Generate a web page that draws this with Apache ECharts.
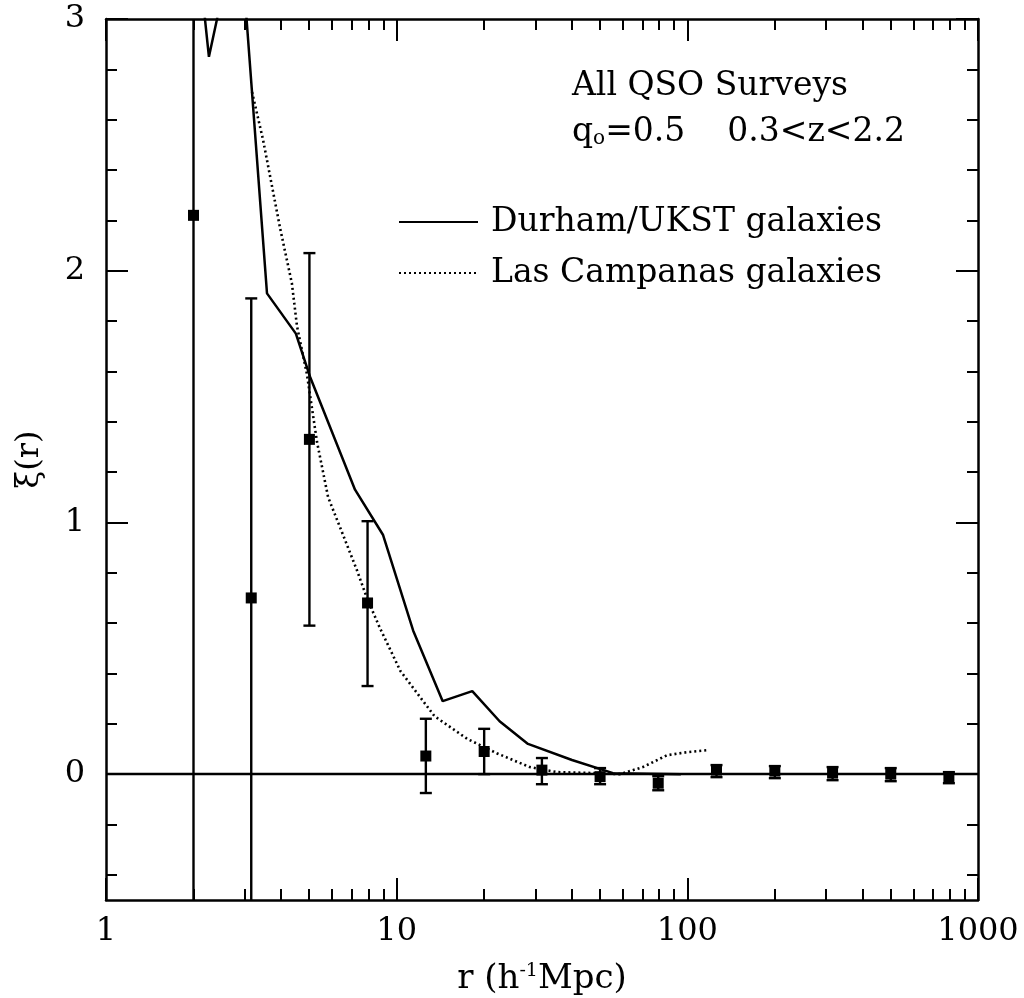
<!DOCTYPE html>
<html>
<head>
<meta charset="utf-8">
<script src="https://cdn.jsdelivr.net/npm/echarts@6/dist/echarts.min.js"></script>
<style>
html,body{margin:0;padding:0;background:#fff;}
#chart{width:1024px;height:998px;}
</style>
</head>
<body>
<div id="chart"></div>
<script>
// ---- data ----
const rBins = [2.0, 3.16, 5.01, 7.94, 12.6, 20.0, 31.6, 50.1, 79.4, 126, 200, 316, 501, 794];
const xiQSO = [2.22, 0.70, 1.33, 0.68, 0.072, 0.09, 0.016, -0.01, -0.036, 0.016, 0.012, 0.004, 0.0, -0.012];
const xiLow = [-1.0, -1.0, 0.59, 0.35, -0.075, 0.0, -0.04, -0.04, -0.064, -0.012, -0.016, -0.024, -0.028, -0.036];
const xiHigh = [4.0, 1.89, 2.07, 1.005, 0.22, 0.18, 0.064, 0.024, -0.008, 0.036, 0.032, 0.028, 0.024, 0.008];

const durhamR  = [2.0, 2.19, 2.26, 2.41, 2.7, 3.0, 3.58, 4.50, 5.03, 7.19, 8.98, 11.4, 14.4, 18.2, 22.6, 28.3, 40.1, 55.5, 95];
const durhamXi = [3.6, 3.0, 2.85, 3.0, 3.5, 3.1, 1.91, 1.75, 1.58, 1.13, 0.95, 0.57, 0.29, 0.33, 0.21, 0.12, 0.056, 0.004, 0.0];

const lcrsR  = [3.18, 3.47, 3.97, 4.36, 4.54, 4.91, 5.32, 5.81, 6.49, 7.30, 7.90, 8.76, 10.3, 13.5, 17.5, 22.1, 28.7, 35.6, 48.9, 58.6, 70.3, 85.1, 99.7, 117];
const lcrsXi = [2.71, 2.52, 2.17, 1.95, 1.78, 1.59, 1.32, 1.10, 0.96, 0.81, 0.70, 0.58, 0.41, 0.23, 0.14, 0.083, 0.028, 0.008, 0.004, 0.0, 0.028, 0.075, 0.087, 0.095];

const xMajorTicks = [1, 10, 100, 1000];
const xMinorTicks = [2,3,4,5,6,7,8,9,20,30,40,50,60,70,80,90,200,300,400,500,600,700,800,900];
const yMajorTicks = [0, 1, 2, 3];
const yMinorTicks = [-0.4,-0.2,0.2,0.4,0.6,0.8,1.2,1.4,1.6,1.8,2.2,2.4,2.6,2.8];

const seriesNames = ['Durham/UKST galaxies', 'Las Campanas galaxies'];

// ---- chart ----
const FONT = 'DejaVu Serif';
const INK = '#000';
const X_MIN = 1, X_MAX = 1000, Y_MIN = -0.5, Y_MAX = 3;

function xAxisDef(position, ticks, len, labels) {
  return {
    type: 'log', logBase: 10, min: X_MIN, max: X_MAX, position: position,
    axisLine: { show: labels !== null, onZero: false, lineStyle: { color: INK, width: 2.5 } },
    axisTick: { show: true, inside: true, length: len, customValues: ticks, lineStyle: { color: INK, width: 2 } },
    axisLabel: labels ? { show: true, customValues: labels, color: INK, fontFamily: FONT, fontSize: 32, margin: 16,
      formatter: v => String(Math.round(v)) } : { show: false },
    splitLine: { show: false }, minorTick: { show: false }
  };
}
function yAxisDef(position, ticks, len, labels) {
  return {
    type: 'value', min: Y_MIN, max: Y_MAX, position: position,
    axisLine: { show: labels !== null, onZero: false, lineStyle: { color: INK, width: 2.5 } },
    axisTick: { show: true, inside: true, length: len, customValues: ticks, lineStyle: { color: INK, width: 2 } },
    axisLabel: labels ? { show: true, customValues: labels, color: INK, fontFamily: FONT, fontSize: 32, margin: 21,
      formatter: v => String(Math.round(v)) } : { show: false },
    splitLine: { show: false }
  };
}

const xAxes = [
  xAxisDef('bottom', xMajorTicks, 22, xMajorTicks),
  xAxisDef('bottom', xMinorTicks, 11, null),
  xAxisDef('top', xMajorTicks, 22, false),
  xAxisDef('top', xMinorTicks, 11, null)
];
xAxes[2].axisLine.show = true;
xAxes[0].name = 'r (h{sup|-1}Mpc)';
xAxes[0].nameLocation = 'middle';
xAxes[0].nameGap = 62;
xAxes[0].nameTextStyle = { color: INK, fontFamily: FONT, fontSize: 34,
  rich: { sup: { fontFamily: FONT, fontSize: 19, color: INK, verticalAlign: 'top', padding: [0, 0, 14, 0] } } };

const yAxes = [
  yAxisDef('left', yMajorTicks, 22, yMajorTicks),
  yAxisDef('left', yMinorTicks, 11, null),
  yAxisDef('right', yMajorTicks, 22, false),
  yAxisDef('right', yMinorTicks, 11, null)
];
yAxes[2].axisLine.show = true;
yAxes[0].name = 'ξ(r)';
yAxes[0].nameLocation = 'middle';
yAxes[0].nameRotate = 90;
yAxes[0].nameGap = 60;
yAxes[0].nameTextStyle = { color: INK, fontFamily: FONT, fontSize: 32 };

const zip = (a, b) => a.map((v, i) => [v, b[i]]);

function renderErrorBar(params, api) {
  const x = api.value(0), lo = api.value(1), hi = api.value(2);
  const loC = Math.max(lo, Y_MIN), hiC = Math.min(hi, Y_MAX);
  const pLo = api.coord([x, loC]), pHi = api.coord([x, hiC]);
  const w = 6;
  const style = { stroke: INK, lineWidth: 2.4 };
  const children = [{ type: 'line', shape: { x1: pLo[0], y1: pLo[1], x2: pHi[0], y2: pHi[1] }, style: style }];
  if (lo >= Y_MIN) children.push({ type: 'line', shape: { x1: pLo[0] - w, y1: pLo[1], x2: pLo[0] + w, y2: pLo[1] }, style: style });
  if (hi <= Y_MAX) children.push({ type: 'line', shape: { x1: pHi[0] - w, y1: pHi[1], x2: pHi[0] + w, y2: pHi[1] }, style: style });
  return { type: 'group', children: children };
}

const option = {
  backgroundColor: '#fff',
  animation: false,
  grid: { left: 106, right: 46, top: 19, bottom: 98, containLabel: false, outerBoundsMode: 'none' },
  xAxis: xAxes,
  yAxis: yAxes,
  legend: {
    data: seriesNames,
    orient: 'vertical',
    left: 398, top: 198,
    padding: 0,
    itemWidth: 79, itemHeight: 14, itemGap: 3,
    selectedMode: false,
    itemStyle: { opacity: 0 },
    textStyle: { color: INK, fontFamily: FONT, fontSize: 33, lineHeight: 34, padding: [0, 0, 14, 8] }
  },
  graphic: [
    { type: 'text', left: 572, top: 70, silent: true,
      style: { text: 'All QSO Surveys', font: '33px "DejaVu Serif"', fill: INK } },
    { type: 'text', left: 572, top: 116, silent: true,
      style: { text: 'q{sub|o}=0.5    0.3<z<2.2', font: '33px "DejaVu Serif"', fill: INK,
        rich: { sub: { fontFamily: FONT, fontSize: 20, fill: INK, verticalAlign: 'bottom', padding: [10, 0, 0, 0] } } } }
  ],
  series: [
    {
      name: seriesNames[0], type: 'line', xAxisIndex: 0, yAxisIndex: 0,
      data: zip(durhamR, durhamXi), symbol: 'none', clip: true,
      lineStyle: { color: INK, width: 2.5 }, itemStyle: { color: INK }, z: 3,
      markLine: { silent: true, symbol: 'none', label: { show: false },
        lineStyle: { color: INK, width: 2.4, type: 'solid' }, data: [{ yAxis: 0 }] }
    },
    {
      name: seriesNames[1], type: 'line', xAxisIndex: 0, yAxisIndex: 0,
      data: zip(lcrsR, lcrsXi), symbol: 'none', clip: true,
      lineStyle: { color: INK, width: 2.6, type: [2, 3] }, itemStyle: { color: INK }, z: 3
    },
    {
      type: 'custom', xAxisIndex: 0, yAxisIndex: 0,
      data: rBins.map((r, i) => [r, xiLow[i], xiHigh[i]]),
      encode: { x: 0, y: [1, 2] },
      renderItem: renderErrorBar, z: 4
    },
    {
      type: 'scatter', xAxisIndex: 0, yAxisIndex: 0,
      data: zip(rBins, xiQSO), symbol: 'rect', symbolSize: 11,
      itemStyle: { color: INK, opacity: 1 }, z: 5
    }
  ]
};

const chart = echarts.init(document.getElementById('chart'));
chart.setOption(option);
</script>
</body>
</html>
